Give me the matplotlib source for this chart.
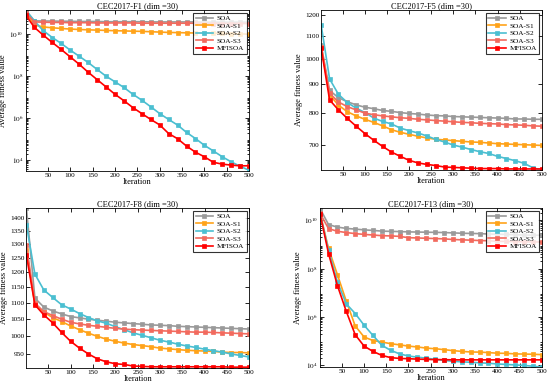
import numpy as np
import matplotlib
matplotlib.use("Agg")
import matplotlib.pyplot as plt
from matplotlib.ticker import FixedLocator, NullFormatter, LogLocator, NullLocator, FuncFormatter

plt.rcParams['font.family'] = ['Liberation Serif', 'DejaVu Serif']
plt.rcParams['mathtext.fontset'] = 'stix'

# iterations where the curves are sampled (markers every 20 iterations)
iters = [1] + list(range(20, 501, 20))

labels = ['SOA', 'SOA-S1', 'SOA-S2', 'SOA-S3', 'MFISOA']
colors = ['#9a9a9a', '#ffa31a', '#4bbfd1', '#f26a5e', '#ff0000']

# CEC2017-F1
f1_soa = [1.3e11, 4.3e10, 4.2e10, 4.2e10, 4.1e10, 4.1e10, 4.0e10, 4.0e10, 4.0e10, 3.9e10,
          3.9e10, 3.9e10, 3.9e10, 3.9e10, 3.8e10, 3.8e10, 3.8e10, 3.8e10, 3.8e10, 3.8e10,
          3.7e10, 3.7e10, 3.7e10, 3.7e10, 3.7e10, 3.7e10]
f1_s1 = [1.0e11, 2.7e10, 2.2e10, 2.0e10, 1.86e10, 1.74e10, 1.66e10, 1.6e10, 1.55e10, 1.5e10,
         1.45e10, 1.42e10, 1.38e10, 1.35e10, 1.3e10, 1.25e10, 1.2e10, 1.18e10, 1.15e10, 1.13e10,
         1.12e10, 1.1e10, 1.07e10, 1.05e10, 1.02e10, 1.0e10]
f1_s2 = [1.38e11, 4.27e10, 1.45e10, 6.9e9, 3.6e9, 1.74e9, 8.9e8, 4.5e8, 2.1e8, 1.0e8,
         5.4e7, 2.9e7, 1.38e7, 7.2e6, 3.5e6, 1.66e6, 8.7e5, 4.7e5, 2.1e5, 1.07e5,
         5.1e4, 2.75e4, 1.45e4, 8.3e3, 5.1e3, 3.3e3]
f1_s3 = [1.0e11, 3.8e10, 3.7e10, 3.6e10, 3.6e10, 3.5e10, 3.5e10, 3.5e10, 3.4e10, 3.4e10,
         3.4e10, 3.4e10, 3.4e10, 3.3e10, 3.3e10, 3.3e10, 3.3e10, 3.3e10, 3.3e10, 3.3e10,
         3.2e10, 3.2e10, 3.2e10, 3.2e10, 3.2e10, 3.2e10]
f1_mf = [7.9e10, 2.1e10, 8.9e9, 4.0e9, 1.86e9, 8.3e8, 3.7e8, 1.55e8, 6.9e7, 3.1e7,
         1.38e7, 6.8e6, 3.2e6, 1.66e6, 8.7e5, 4.8e5, 1.86e5, 1.05e5, 4.7e4, 2.4e4,
         1.45e4, 7.9e3, 6.5e3, 5.8e3, 5.4e3, 5.4e3]

# CEC2017-F5
f5_soa = [1060, 878, 852, 838, 827, 819, 814, 808, 805, 801, 798, 796, 793, 791, 790, 788,
          787, 786, 785, 784, 783, 782, 780, 780, 779, 779]
f5_s1 = [1053, 862, 826, 804, 790, 779, 769, 758, 746, 738, 732, 726, 721, 717, 715, 713,
         711, 709, 708, 706, 704, 703, 702, 701, 700, 699]
f5_s2 = [1151, 921, 864, 835, 816, 801, 783, 772, 764, 751, 743, 736, 727, 717, 709, 700,
         694, 687, 681, 676, 668, 662, 656, 649, 637, 631]
f5_s3 = [1053, 868, 837, 821, 810, 799, 794, 790, 787, 784, 782, 779, 777, 775, 773, 771,
         769, 768, 766, 765, 764, 762, 761, 760, 758, 757]
f5_mf = [1046, 844, 810, 782, 757, 734, 714, 696, 680, 668, 657, 650, 646, 643, 639, 638,
         637, 636, 635, 635, 635, 634, 634, 634, 634, 634]

# CEC2017-F8
f8_soa = [1440, 1114, 1086, 1074, 1065, 1057, 1053, 1049, 1046, 1043, 1040, 1038, 1036, 1034,
          1032, 1031, 1030, 1028, 1027, 1026, 1025, 1024, 1023, 1022, 1021, 1020]
f8_s1 = [1277, 1095, 1070, 1054, 1042, 1029, 1018, 1008, 999, 991, 985, 980, 976, 973, 970,
         966, 964, 962, 960, 959, 958, 957, 955, 954, 954, 953]
f8_s2 = [1373, 1193, 1140, 1116, 1093, 1080, 1066, 1054, 1044, 1037, 1027, 1018, 1009, 1002,
         995, 988, 983, 977, 972, 968, 963, 959, 955, 950, 946, 942]
f8_s3 = [1296, 1098, 1072, 1060, 1049, 1040, 1035, 1031, 1028, 1025, 1022, 1020, 1018, 1017,
         1016, 1015, 1014, 1013, 1012, 1011, 1011, 1010, 1009, 1008, 1007, 1006]
f8_mf = [1259, 1093, 1062, 1038, 1010, 985, 966, 950, 937, 929, 924, 922, 918, 917, 916, 916,
         916, 916, 916, 916, 916, 916, 916, 915, 915, 915]

# CEC2017-F13
f13_soa = [3.0e10, 6.6e9, 5.2e9, 4.6e9, 4.3e9, 4.0e9, 3.8e9, 3.55e9, 3.47e9, 3.4e9, 3.3e9,
           3.25e9, 3.2e9, 3.15e9, 3.1e9, 3.0e9, 2.9e9, 2.85e9, 2.8e9, 2.7e9, 2.65e9, 2.6e9,
           2.5e9, 2.45e9, 2.4e9, 2.4e9]
f13_s1 = [1.9e10, 6.8e8, 5.6e7, 4.5e6, 4.3e5, 1.5e5, 1.07e5, 9.3e4, 7.9e4, 7.1e4, 6.3e4,
          5.8e4, 5.2e4, 4.9e4, 4.5e4, 4.1e4, 3.8e4, 3.6e4, 3.55e4, 3.4e4, 3.2e4, 3.16e4,
          3.0e4, 2.95e4, 2.9e4, 2.8e4]
f13_s2 = [1.9e10, 5.8e8, 2.8e7, 3.5e6, 1.4e6, 4.6e5, 1.74e5, 6.8e4, 4.2e4, 3.0e4, 2.45e4,
          2.2e4, 2.0e4, 1.78e4, 1.62e4, 1.48e4, 1.41e4, 1.35e4, 1.29e4, 1.23e4, 1.15e4, 1.1e4,
          1.05e4, 1.0e4, 9.3e3, 8.5e3]
f13_s3 = [1.9e10, 4.5e9, 3.5e9, 3.1e9, 2.8e9, 2.6e9, 2.45e9, 2.3e9, 2.25e9, 2.15e9, 1.9e9,
          1.85e9, 1.8e9, 1.75e9, 1.7e9, 1.6e9, 1.55e9, 1.5e9, 1.45e9, 1.42e9, 1.35e9, 1.33e9,
          1.3e9, 1.28e9, 1.27e9, 1.26e9]
f13_mf = [1.8e10, 4.2e8, 2.0e7, 1.7e6, 1.86e5, 6.3e4, 3.8e4, 2.6e4, 2.1e4, 1.95e4, 1.9e4,
          1.82e4, 1.78e4, 1.74e4, 1.74e4, 1.7e4, 1.7e4, 1.7e4, 1.7e4, 1.7e4, 1.7e4, 1.7e4,
          1.7e4, 1.7e4, 1.7e4, 1.7e4]

panels = [
    dict(title='CEC2017-F1 (dim =30)', data=[f1_soa, f1_s1, f1_s2, f1_s3, f1_mf],
         ylim=(3.1e3, 1.38e11), ticks=[1e4, 1e6, 1e8, 1e10], logfmt=True,
         pos=[0.047, 0.563, 0.406, 0.411]),
    dict(title='CEC2017-F5 (dim =30)', data=[f5_soa, f5_s1, f5_s2, f5_s3, f5_mf],
         ylim=(631, 1225), ticks=[700, 800, 900, 1000, 1100, 1200], logfmt=False,
         pos=[0.584, 0.565, 0.401, 0.409]),
    dict(title='CEC2017-F8 (dim =30)', data=[f8_soa, f8_s1, f8_s2, f8_s3, f8_mf],
         ylim=(913, 1440), ticks=[950, 1000, 1050, 1100, 1150, 1200, 1250, 1300, 1350, 1400],
         logfmt=False, pos=[0.048, 0.059, 0.405, 0.409]),
    dict(title='CEC2017-F13 (dim =30)', data=[f13_soa, f13_s1, f13_s2, f13_s3, f13_mf],
         ylim=(8.5e3, 3.2e10), ticks=[1e4, 1e6, 1e8, 1e10], logfmt=True,
         pos=[0.582, 0.061, 0.403, 0.407]),
]

fig = plt.figure(figsize=(5.5, 3.91), dpi=100)

for p in panels:
    ax = fig.add_axes(p['pos'])
    for series, lab, col in zip(p['data'], labels, colors):
        ax.plot(iters, series, color=col, lw=1.2, marker='s', ms=2.6,
                markeredgewidth=0.5, label=lab)
    ax.set_yscale('log')
    ax.set_xlim(1, 500)
    ax.set_ylim(*p['ylim'])
    ax.xaxis.set_major_locator(FixedLocator(list(range(50, 501, 50))))
    ax.yaxis.set_major_locator(FixedLocator(p['ticks']))
    if p['logfmt']:
        ax.yaxis.set_major_formatter(FuncFormatter(lambda v, _: r'$10^{%d}$' % round(np.log10(v))))
        ax.yaxis.set_minor_locator(LogLocator(base=10, subs=np.arange(2, 10), numticks=20))
    else:
        ax.yaxis.set_major_formatter(FuncFormatter(lambda v, _: '%d' % v))
        ax.yaxis.set_minor_locator(NullLocator())
    ax.yaxis.set_minor_formatter(NullFormatter())
    ax.tick_params(which='both', direction='in', top=True, right=True, labelsize=5.2,
                   width=0.6, pad=1.5)
    ax.tick_params(which='major', length=3)
    ax.tick_params(which='minor', length=1.5)
    for s in ax.spines.values():
        s.set_linewidth(0.6)
    ax.set_title(p['title'], fontsize=6, pad=1.5)
    ax.set_xlabel('Iteration', fontsize=6, labelpad=0)
    ax.set_ylabel('Average fitness value', fontsize=6, labelpad=1.5)
    leg = ax.legend(loc='upper right', fontsize=5.2, frameon=True, fancybox=False,
                    edgecolor='black', borderpad=0.35, labelspacing=0.2, handlelength=2.4,
                    handletextpad=0.5, borderaxespad=0.35)
    leg.get_frame().set_linewidth(0.8)

fig.savefig('out.png', dpi=100)
